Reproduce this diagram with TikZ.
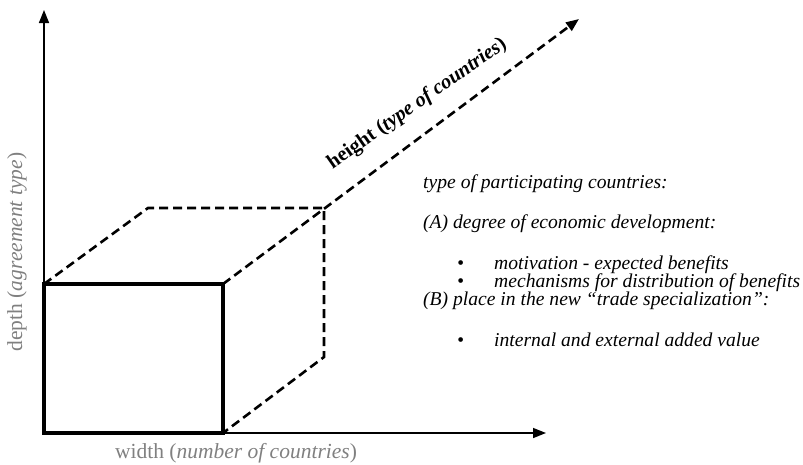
\documentclass[tikz,border=0pt]{standalone}
\usepackage{fontspec}
\setmainfont{Liberation Serif}
\usepackage{tikz}
\usetikzlibrary{arrows.meta}
\definecolor{labelgray}{gray}{0.5}

\begin{document}
\begin{tikzpicture}[x=1pt,y=-1pt,
    axis/.style={line width=1.5pt, -{Triangle[length=13pt,width=10pt]}},
    hidden/.style={line width=2.6pt, dash pattern=on 9pt off 5pt},
    front/.style={line width=3.8pt, line join=miter},
    info/.style={anchor=base west, inner sep=0pt, font=\fontsize{19.6}{23}\selectfont\itshape}]
    \useasboundingbox (0,0) rectangle (803,464);
    % Corners of the box
    \coordinate (o) at (44,433);
    \coordinate (w) at (223,433);
    \coordinate (d) at (44,284);
    \coordinate (wd) at (223,284);
    \coordinate (dh) at (148,208);
    \coordinate (wdh) at (324,208);
    \coordinate (wh) at (324,357);
    % Axes
    \coordinate (xend) at (546,433);
    \coordinate (yend) at (44,10);
    \coordinate (zend) at (579,19);
    \draw[axis] (o) -- (xend);
    \draw[axis] (o) -- (yend);
    % Hidden edges and the third axis
    \draw[hidden] (d) -- (dh) -- (wdh) -- (wh) -- (w);
    \draw[hidden, -{Triangle[length=13pt,width=10pt]}] (wd) -- (zend);
    \node[rotate=35, anchor=base, inner sep=0pt, font=\fontsize{20.5}{24}\selectfont\bfseries] (zlabel) at (420,108) {height (\textit{type of countries})};
    % Front face
    \draw[front] (o) rectangle (wd);
    % Axis labels
    \node[labelgray, font=\fontsize{21.5}{24}\selectfont] (xlabel) at (236,453) {width (\textit{number of countries})};
    \node[labelgray, rotate=90, font=\fontsize{21.5}{24}\selectfont] (ylabel) at (17,252) {depth (\textit{agreement type})};
    % Notes on the third axis
    \node[info] (t0) at (423,188) {type of participating countries:};
    \node[info] (t1) at (423,228) {(A) degree of economic development:};
    \node[info] (b1) at (457,269) {\textbullet};
    \node[info] (t2) at (494,269) {motivation - expected benefits};
    \node[info] (b2) at (457,287) {\textbullet};
    \node[info] (t3) at (494,287) {mechanisms for distribution of benefits};
    \node[info] (t4) at (423,305) {(B) place in the new ``trade specialization'':};
    \node[info] (b3) at (457,346) {\textbullet};
    \node[info] (t5) at (494,346) {internal and external added value};
\end{tikzpicture}
\end{document}
